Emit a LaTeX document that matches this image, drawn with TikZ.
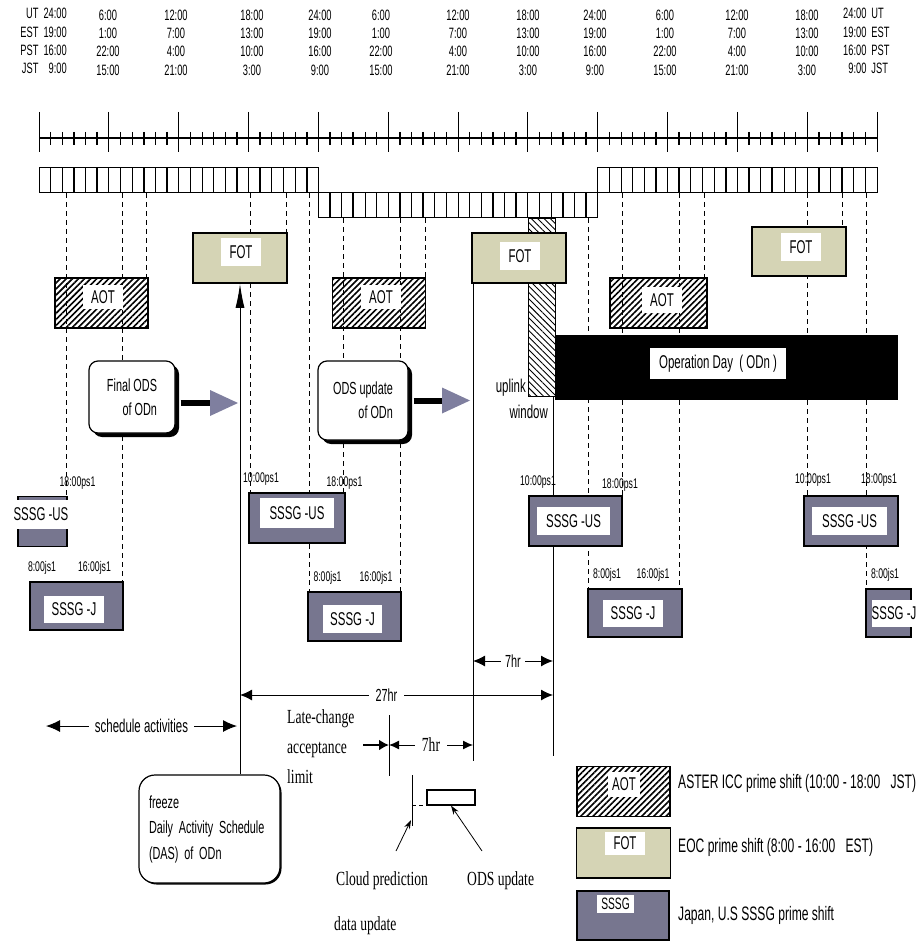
\documentclass[tikz,border=0pt]{standalone}
\usepackage{fontspec}
\setmainfont{Liberation Sans}[FakeStretch=0.62]
\newfontfamily\notefont{Liberation Serif}[FakeStretch=0.68]
\usetikzlibrary{arrows.meta, patterns.meta, shadows, calc}
\definecolor{fotfill}{HTML}{D5D4B5}
\definecolor{sssgfill}{HTML}{77768F}
\definecolor{headgray}{HTML}{7F7F9F}

\begin{document}
\begin{tikzpicture}[
    x=1pt, y=-1pt,
    font=\fontsize{15}{18}\selectfont,
    hdr/.style={inner sep=0pt, align=center, font=\fontsize{15}{18.3}\selectfont},
    tstamp/.style={inner sep=0pt, font=\fontsize{14}{14}\selectfont},
    tag/.style={fill=white, inner sep=0pt, minimum width=#1, minimum height=28pt,
                font=\fontsize{18.5}{18.5}\selectfont},
    tag/.default=40pt,
    aotbox/.style={draw, line width=1.2pt, minimum width=93pt, minimum height=50pt,
                   inner sep=0pt, pattern={Lines[angle=45, distance=4.3pt, line width=1.6pt]}},
    fotbox/.style={draw, line width=1.5pt, fill=fotfill, minimum width=94pt,
                   minimum height=50pt, inner sep=0pt},
    sssgbox/.style={draw, line width=1.5pt, fill=sssgfill, minimum width=#1,
                    minimum height=50pt, inner sep=0pt},
    sssgbox/.default=94pt,
    odsbox/.style={draw, line width=1.2pt, fill=white, rounded corners=9pt,
                   align=right, inner sep=0pt, font=\fontsize{17.5}{24}\selectfont,
                   drop shadow={shadow xshift=4pt, shadow yshift=-4pt, fill=black, opacity=1}},
    hourguide/.style={line width=0.8pt, dash pattern=on 5pt off 4pt},
    solidrule/.style={line width=1pt},
    bigarrow/.style={line width=6pt,
                     -{Triangle[length=28pt, width=26pt, line width=0pt, color=headgray]}},
    dimline/.style={line width=1pt, {Latex[length=12pt, width=11pt]}-{Latex[length=12pt, width=11pt]}},
    pointer/.style={line width=0.8pt, -{Stealth[length=9pt, width=6pt]}},
    note/.style={inner sep=0pt, align=left, font=\notefont\fontsize{20}{30}\selectfont},
    legtext/.style={anchor=west, inner sep=0pt, font=\fontsize{19.5}{19.5}\selectfont},
  ]
  \useasboundingbox (0,0) rectangle (922,941);

  % time zone header
  \node[hdr, anchor=east] (hdr0) at (67,42.5)
    {\begin{tabular}{@{}r@{\hspace{5pt}}r@{}}UT&24:00\\EST&19:00\\PST&16:00\\JST&9:00\end{tabular}};
  \node[hdr] (hdr1) at (108,42.5) {6:00\\1:00\\22:00\\15:00};
  \node[hdr] (hdr2) at (176,42.5) {12:00\\7:00\\4:00\\21:00};
  \node[hdr] (hdr3) at (252,42.5) {18:00\\13:00\\10:00\\3:00};
  \node[hdr] (hdr4) at (320,42.5) {24:00\\19:00\\16:00\\9:00};
  \node[hdr] (hdr5) at (381,42.5) {6:00\\1:00\\22:00\\15:00};
  \node[hdr] (hdr6) at (458,42.5) {12:00\\7:00\\4:00\\21:00};
  \node[hdr] (hdr7) at (528,42.5) {18:00\\13:00\\10:00\\3:00};
  \node[hdr] (hdr8) at (595,42.5) {24:00\\19:00\\16:00\\9:00};
  \node[hdr] (hdr9) at (665,42.5) {6:00\\1:00\\22:00\\15:00};
  \node[hdr] (hdr10) at (737,42.5) {12:00\\7:00\\4:00\\21:00};
  \node[hdr] (hdr11) at (807,42.5) {18:00\\13:00\\10:00\\3:00};
  \node[hdr, anchor=west] (hdr12) at (843,42.5)
    {\begin{tabular}{@{}r@{\hspace{5pt}}l@{}}24:00&UT\\19:00&EST\\16:00&PST\\9:00&JST\end{tabular}};

  % hour axis
  \draw[line width=1.2pt] (39,138) -- (877,138);
  \foreach \h in {1,3,...,71}
    \draw[line width=1.6pt] ({39+11.639*\h},132) -- ({39+11.639*\h},145);
  \foreach \h in {2,4,...,70}
    \draw[line width=0.7pt] ({39+11.639*\h},132) -- ({39+11.639*\h},145);
  \foreach \h in {0,6,...,72}
    \draw[line width=0.8pt] ({39+11.639*\h},112) -- ({39+11.639*\h},152);

  % hour cells
  \foreach \y/\s in {168/0, 193/24, 168/48}{
    \draw[line width=1pt] ({39+11.639*\s},\y) rectangle ({39+11.639*(\s+24)},\y+25);
    \foreach \h in {1,3,...,23}
      \draw[line width=1.6pt] ({39+11.639*(\h+\s)},\y) -- ++(0,25);
    \foreach \h in {2,4,...,22}
      \draw[line width=0.7pt] ({39+11.639*(\h+\s)},\y) -- ++(0,25);
  }

  % shift guides
  \foreach \x/\a/\b in {66/193/497, 122/193/582, 146/193/278, 250/193/493,
      286/193/233, 309/193/592, 343/218/493, 400/218/592, 425/218/278,
      588/218/589, 622/193/496, 679/193/589, 704/193/278, 807/193/496,
      842/193/227, 866/193/589}
    \draw[hourguide] (\x,\a) -- (\x,\b);

  % uplink window
  \node[draw, line width=0.8pt, minimum width=27pt, minimum height=178pt, inner sep=0pt,
        pattern={Lines[angle=-45, distance=4.5pt, line width=0.9pt]}] (uplink) at (541.5,307) {};
  \coordinate (uplow) at (553,756);
  \draw[solidrule] (uplink.south -| uplow) -- (uplow);

  % FOT shifts
  \node[fotbox] (fot1) at (240,258) {};
  \node[tag] (fot1t) at (241,252) {FOT};
  \node[fotbox] (fot2) at (519,258) {};
  \node[tag] (fot2t) at (520,256) {FOT};
  \node[fotbox, minimum height=49pt] (fot3) at (799,251.5) {};
  \node[tag] (fot3t) at (801,247) {FOT};
  \coordinate (sevenlow) at (473,761);
  \draw[solidrule] (fot2.south west -| sevenlow) -- (sevenlow);

  % AOT shifts
  \node[aotbox] (aot1) at (101.5,303) {};
  \node[tag, minimum height=24pt] (aot1t) at (103,297) {AOT};
  \node[aotbox] (aot2) at (379,303) {};
  \node[tag, minimum height=24pt] (aot2t) at (381,297) {AOT};
  \node[aotbox, minimum width=97pt] (aot3) at (658.5,303) {};
  \node[tag, minimum height=26pt] (aot3t) at (662,300) {AOT};

  % operation day
  \node[fill=black, draw, minimum width=342pt, minimum height=64pt, inner sep=0pt] (opday) at (726,367) {};
  \node[tag=136pt, minimum height=31pt] (opdayt) at (718,363.5) {Operation Day\ \ (\,ODn\,)};
  \node[anchor=east, inner sep=0pt, font=\fontsize{18.5}{18.5}\selectfont] (uplinktxt) at (526,388) {uplink};
  \node[anchor=east, inner sep=0pt, font=\fontsize{18.5}{18.5}\selectfont] (windowtxt) at (548,412) {window};

  % ODS boxes
  \node[odsbox, minimum width=86pt, minimum height=72pt] (finalods) at (132,397) {Final ODS\\of ODn};
  \node[odsbox, minimum width=90pt, minimum height=79pt] (odsupd) at (363,400.5) {ODS update\\of ODn};
  \coordinate (fodsout) at ($(finalods.east)+(5,6)$);
  \draw[bigarrow, shorten >=2pt] (fodsout) -- (fodsout -| fot1.south);
  \coordinate (odsout) at ($(odsupd.east)+(5,0)$);
  \draw[bigarrow, shorten >=3pt] (odsout) -- (odsout -| sevenlow);

  % freeze
  \node[draw, line width=1.2pt, fill=white, rounded corners=16pt, minimum width=141pt,
        minimum height=108pt, inner sep=10pt, text width=121pt, align=left,
        font=\fontsize{17.5}{25.5}\selectfont,
        drop shadow={shadow xshift=1.5pt, shadow yshift=-1.5pt, fill=black, opacity=1}]
        (freeze) at (209.5,829) {freeze\\Daily Activity Schedule\\(DAS) of ODn};
  \draw[solidrule, -{Latex[length=24pt, width=9pt]}] (freeze.north -| fot1.south) -- (fot1.south);

  % SSSG shifts
  \node[sssgbox=49pt] (sssgus1) at (42.5,521.5) {};
  \node[tag=55pt, minimum height=29pt] (sssgus1t) at (41,514) {SSSG -US};
  \node[sssgbox=93pt, minimum height=48pt] (sssgj1) at (76.5,606) {};
  \node[tag=60pt, minimum height=27pt] (sssgj1t) at (74,609.5) {SSSG -J};
  \node[sssgbox=96pt] (sssgus2) at (297,518) {};
  \node[tag=74pt, minimum height=30pt] (sssgus2t) at (297,513) {SSSG -US};
  \node[sssgbox=93pt, minimum height=49pt] (sssgj2) at (354.5,616.5) {};
  \node[tag=59pt] (sssgj2t) at (352.5,619) {SSSG -J};
  \node[sssgbox=93pt] (sssgus3) at (575.5,521) {};
  \node[tag=73pt] (sssgus3t) at (573.5,521) {SSSG -US};
  \node[sssgbox, minimum height=48pt] (sssgj4) at (635,613) {};
  \node[tag=60pt, minimum height=27pt] (sssgj4t) at (633,613.5) {SSSG -J};
  \node[sssgbox] (sssgus5) at (851,521) {};
  \node[tag=75pt] (sssgus5t) at (849.5,521) {SSSG -US};
  \node[sssgbox=45pt, minimum height=48pt] (sssgj6) at (888.5,613) {};
  \node[tag=38pt, minimum height=27pt] (sssgj6t) at (894,613.5) {SSSG -J};

  % shift times
  \node[tstamp] (us1b) at (77.5,483) {18:00ps1};
  \node[tstamp] (j1a) at (42,568) {8:00js1};
  \node[tstamp] (j1b) at (94.5,568) {16:00js1};
  \node[tstamp] (us2a) at (261,479) {10:00ps1};
  \node[tstamp] (us2b) at (344.5,483) {18:00ps1};
  \node[tstamp] (j2a) at (327.5,578) {8:00js1};
  \node[tstamp] (j2b) at (376,578) {16:00js1};
  \node[tstamp] (us3a) at (538,482) {10:00ps1};
  \node[tstamp] (us3b) at (620,485) {18:00ps1};
  \node[tstamp] (j4a) at (607,575) {8:00js1};
  \node[tstamp] (j4b) at (653,575) {16:00js1};
  \node[tstamp] (us5a) at (813,480) {10:00ps1};
  \node[tstamp] (us5b) at (879,480) {18:00ps1};
  \node[tstamp] (j6a) at (885,575) {8:00js1};

  % spans
  \coordinate (upL) at (473,661);
  \coordinate (upR) at (553,661);
  \draw[dimline] (upL) -- node[fill=white, inner sep=4pt, font=\fontsize{17.5}{17.5}\selectfont] (uptxt) {7hr} (upR);
  \coordinate (dimL) at (240,695);
  \coordinate (dimR) at (553,695);
  \draw[dimline] (dimL) -- node[pos=0.468, fill=white, inner sep=7pt, font=\fontsize{17.5}{17.5}\selectfont] (dimtxt) {27hr} (dimR);
  \coordinate (schedL) at (46,726);
  \coordinate (schedR) at (237,726);
  \draw[line width=1pt, {Latex[length=14pt, width=12pt]}-{Latex[length=14pt, width=12pt]}]
    (schedL) -- node[fill=white, inner xsep=6pt, font=\fontsize{18.5}{18.5}\selectfont] (schedtxt) {schedule activities} (schedR);

  % late change limit
  \node[note, anchor=west] (latechange) at (287,747) {Late-change\\acceptance\\limit};
  \coordinate (limtop) at (389,715);
  \coordinate (limbot) at (389,776);
  \coordinate (limmid) at (389,745);
  \coordinate (lateS) at (363,745);
  \coordinate (sevenB) at (473,745);
  \draw[solidrule] (limtop) -- (limbot);
  \draw[line width=2.5pt, -{Latex[length=10pt, width=11pt]}] (lateS) -- (limmid);
  \draw[line width=1pt, {Latex[length=10pt, width=9pt]}-{Latex[length=10pt, width=9pt]}]
    (limmid) -- node[note, fill=white, inner xsep=7pt] (sevenlbl) {7hr} (sevenB);

  % cloud prediction and ODS update
  \coordinate (cloudtop) at (412,775);
  \coordinate (cloudbot) at (412,826);
  \draw[solidrule] (cloudtop) -- (cloudbot);
  \node[draw, line width=1.2pt, fill=white, minimum width=48pt, minimum height=15pt, inner sep=0pt] (odsbar) at (451,797.5) {};
  \draw[line width=1pt, dash pattern=on 4pt off 3pt] (cloudtop |- odsbar.south) -- (odsbar.south west);
  \node[note, anchor=west] (cloudtxt) at (336,881) {Cloud prediction};
  \node[note, anchor=west] (cloudtxtb) at (334,926) {data update};
  \node[note, anchor=west] (odsupdtxt) at (467,881) {ODS update};
  \coordinate (cloudptr) at (396,851);
  \coordinate (cloudhit) at (411,820);
  \draw[pointer] (cloudptr) -- (cloudhit);
  \coordinate (odsptr) at (482,851);
  \draw[pointer] (odsptr) -- (odsbar.south);

  % legend
  \node[aotbox] (legaot) at (623.5,791.5) {};
  \node[tag=32pt, minimum height=25pt] (legaott) at (624,784) {AOT};
  \node[legtext] (legaottxt) at (678,783) {ASTER ICC prime shift (10:00 - 18:00\ \ \ JST)};
  \node[fotbox] (legfot) at (623.5,853) {};
  \node[tag=40pt, minimum height=23pt] (legfott) at (625,843.5) {FOT};
  \node[legtext] (legfottxt) at (678,847) {EOC prime shift (8:00 - 16:00\ \ \ EST)};
  \node[sssgbox=92pt, minimum height=49pt] (legsssg) at (623,915.5) {};
  \node[tag=37pt, minimum height=18pt, font=\fontsize{16.5}{16.5}\selectfont] (legsssgt) at (615.5,904) {SSSG};
  \node[legtext] (legsssgtxt) at (678,915) {Japan, U.S SSSG prime shift};
\end{tikzpicture}
\end{document}
